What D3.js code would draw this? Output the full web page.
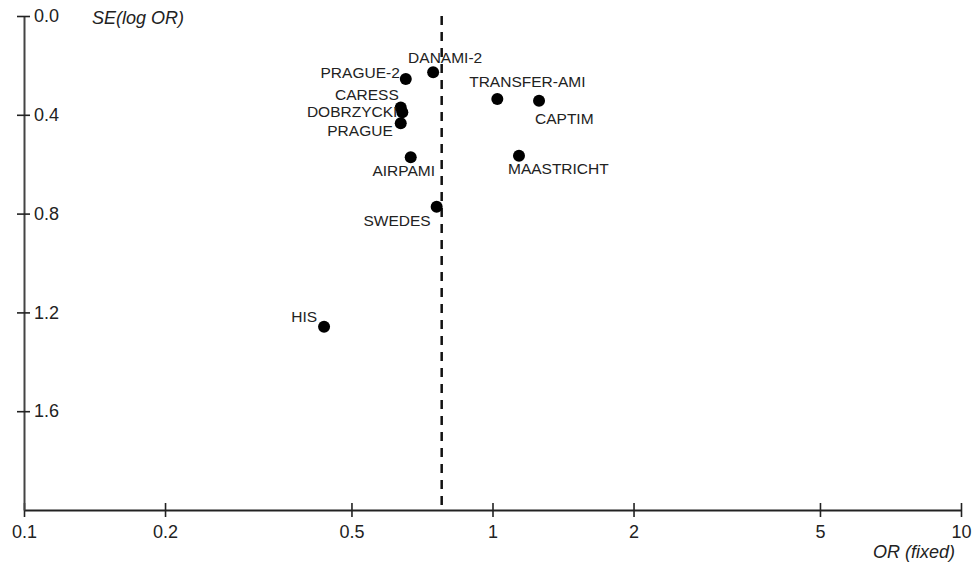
<!DOCTYPE html>
<html>
<head>
<meta charset="utf-8">
<script src="https://cdn.jsdelivr.net/npm/d3@7"></script>
<style>
  body { margin: 0; background: #fff; }
  text { font-family: "Liberation Sans", Arial, sans-serif; fill: #222; }
</style>
</head>
<body>
<svg id="chart" width="973" height="562"></svg>
<script>
// study names, odds ratios and standard errors
const studies = ["DANAMI-2", "PRAGUE-2", "TRANSFER-AMI", "CAPTIM", "CARESS", "DOBRZYCKI",
                 "PRAGUE", "AIRPAMI", "MAASTRICHT", "SWEDES", "HIS"];
const oddsRatio = [0.747, 0.653, 1.024, 1.257, 0.637, 0.642, 0.637, 0.669, 1.139, 0.760, 0.437];
const seLogOR = [0.228, 0.255, 0.336, 0.343, 0.370, 0.390, 0.434, 0.572, 0.566, 0.772, 1.258];
const pooledOR = 0.779;

const xTicks = [0.1, 0.2, 0.5, 1, 2, 5, 10];
const yTicks = [0.0, 0.4, 0.8, 1.2, 1.6];

// label placement next to each dot (anchor, dx, dy)
const labelPos = {
  "DANAMI-2":     ["middle", 12, -9],
  "PRAGUE-2":     ["end", -6, -1],
  "TRANSFER-AMI": ["middle", 30, -12],
  "CAPTIM":       ["start", -4, 23],
  "CARESS":       ["end", -2, -7],
  "DOBRZYCKI":    ["end", -5, 5],
  "PRAGUE":       ["end", -8, 13],
  "AIRPAMI":      ["middle", -7, 19],
  "MAASTRICHT":   ["start", -11, 18],
  "SWEDES":       ["end", -6, 19],
  "HIS":          ["end", -7, -5]
};

const data = studies.map((s, i) => ({name: s, or: oddsRatio[i], se: seLogOR[i]}));

const svg = d3.select('#chart');

const x = d3.scaleLog().domain([0.1, 10]).range([24, 961]);
const y = d3.scaleLinear().domain([0, 2]).range([16, 510]);

// X axis
const xAxis = svg.append('g')
    .attr('transform', 'translate(0,510)')
    .call(d3.axisBottom(x).tickValues(xTicks).tickFormat(d3.format('~g')).tickSizeInner(7).tickSizeOuter(0).tickPadding(8));
xAxis.select('.domain').attr('stroke', '#222').attr('stroke-width', 2);
xAxis.selectAll('.tick line').attr('y1', -7).attr('stroke', '#222').attr('stroke-width', 1.6);
xAxis.selectAll('.tick text').style('font-size', '18px').attr('fill', '#222');

// Y axis
const yAxis = svg.append('g')
    .attr('transform', 'translate(24,0)')
    .call(d3.axisRight(y).tickValues(yTicks).tickFormat(d3.format('.1f')).tickSizeInner(6).tickSizeOuter(0).tickPadding(4));
yAxis.select('.domain').attr('stroke', '#444').attr('stroke-width', 2);
yAxis.selectAll('.tick line').attr('x1', -7).attr('stroke', '#222').attr('stroke-width', 1.6);
yAxis.selectAll('.tick text').style('font-size', '18px').attr('fill', '#222');

// axis titles
svg.append('text')
    .attr('x', 92).attr('y', 24)
    .style('font-size', '18px').style('font-style', 'italic')
    .text('SE(log OR)');
svg.append('text')
    .attr('x', 955).attr('y', 558)
    .attr('text-anchor', 'end')
    .style('font-size', '18px').style('font-style', 'italic')
    .text('OR (fixed)');

// pooled estimate line
svg.append('line')
    .attr('x1', x(pooledOR)).attr('x2', x(pooledOR))
    .attr('y1', y(0)).attr('y2', y(2))
    .attr('stroke', '#111').attr('stroke-width', 2.5)
    .attr('stroke-dasharray', '9,7');

// study dots
svg.selectAll('circle.study')
    .data(data)
    .enter()
    .append('circle')
    .attr('class', 'study')
    .attr('cx', d => x(d.or))
    .attr('cy', d => y(d.se))
    .attr('r', 6)
    .attr('fill', '#000');

// study labels
svg.selectAll('text.study')
    .data(data)
    .enter()
    .append('text')
    .attr('class', 'study')
    .attr('x', d => x(d.or) + labelPos[d.name][1])
    .attr('y', d => y(d.se) + labelPos[d.name][2])
    .attr('text-anchor', d => labelPos[d.name][0])
    .style('font-size', '15.5px')
    .text(d => d.name);
</script>
</body>
</html>
